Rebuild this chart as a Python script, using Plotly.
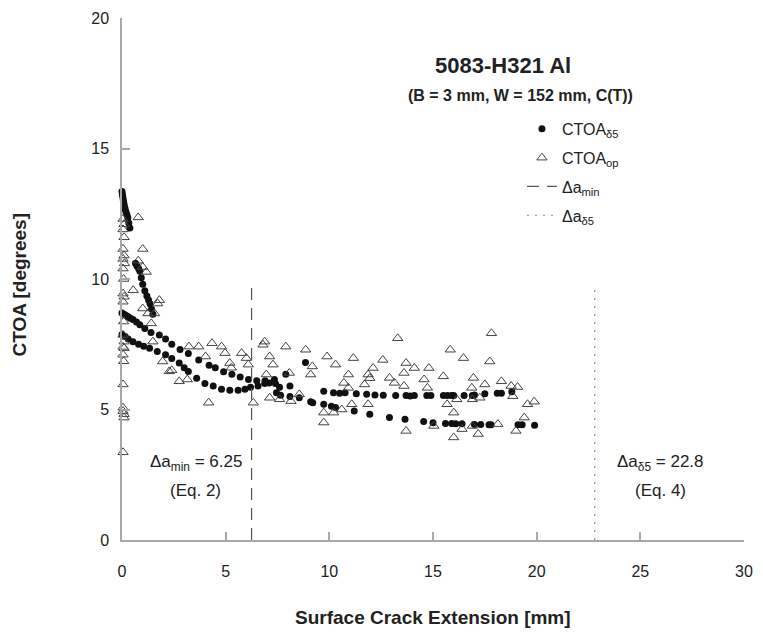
import plotly.graph_objects as go

# ---- data ----
d5_x = [0.0, 0.02, 0.04, 0.06, 0.08, 0.1, 0.13, 0.16, 0.2, 0.24, 0.28, 0.33, 0.38, 0.65, 0.72, 0.8, 0.86, 0.93,
        1.0, 1.1, 1.2, 1.28, 1.35, 1.42, 1.49,
        0.0, 0.1, 0.2, 0.3, 0.4, 0.53, 0.7, 0.86, 1.1, 1.4, 1.8, 2.1, 2.4, 2.8, 3.2, 3.7, 4.2, 4.5, 4.9, 5.3, 5.7,
        6.1, 6.5, 6.9, 7.35, 7.9,
        0.0, 0.15, 0.3, 0.53, 0.8, 1.05, 1.33, 1.7, 2.1, 2.4, 2.76, 3.0, 3.2, 3.6, 4.0, 4.4, 4.8, 5.2, 5.6, 5.93,
        6.2, 6.56, 6.88, 7.1, 7.4,
        7.6, 8.1, 8.85, 9.73, 10.2, 10.5, 10.76, 11.3, 11.8, 12.2, 12.6, 13.2, 13.7, 13.9, 14.1, 14.7, 14.9, 15.5,
        15.7, 15.9, 16.0, 16.5, 16.9, 17.0, 17.5, 18.1, 18.3, 18.8,
        7.45, 7.65, 8.1, 8.55, 9.1, 9.2, 9.73, 10.1, 10.3, 11.2, 11.95, 12.9, 13.65, 14.55, 15.0, 15.6, 15.9,
        16.1, 16.4, 17.0, 17.3, 17.7, 17.8, 19.1, 19.3, 19.9]
d5_y = [13.35, 13.25, 13.15, 13.05, 12.95, 12.85, 12.75, 12.65, 12.55, 12.45, 12.35, 12.15, 11.95, 10.6, 10.5,
        10.4, 10.3, 10.05, 9.8, 9.55, 9.35, 9.2, 9.05, 8.85, 8.65,
        8.7, 8.65, 8.6, 8.55, 8.5, 8.45, 8.35, 8.25, 8.1, 7.95, 7.85, 7.7, 7.5, 7.3, 7.15, 6.9, 6.7, 6.6, 6.45,
        6.35, 6.25, 6.15, 6.1, 6.1, 6.15, 6.35,
        7.87, 7.8, 7.7, 7.6, 7.5, 7.42, 7.35, 7.22, 7.1, 6.95, 6.78, 6.6, 6.46, 6.2, 6.0, 5.9, 5.78, 5.74, 5.74,
        5.78, 5.85, 5.9, 6.0, 6.02, 6.0,
        5.85, 5.9, 6.8, 5.7, 5.64, 5.62, 5.64, 5.6, 5.58, 5.56, 5.55, 5.54, 5.54, 5.52, 5.54, 5.54, 5.54, 5.54,
        5.54, 5.54, 5.54, 5.54, 5.54, 5.56, 5.6, 5.62, 5.62, 5.68,
        5.64, 5.55, 5.5, 5.45, 5.3, 5.26, 5.2, 5.12, 5.08, 4.94, 4.82, 4.69, 4.63, 4.54, 4.49, 4.46, 4.46, 4.45,
        4.45, 4.43, 4.43, 4.42, 4.42, 4.42, 4.42, 4.4]

op_x = [0.05, 0.1, 0.05, 0.1, 0.05, 0.1, 0.05, 0.12, 0.05, 0.08, 0.05, 0.1, 0.05, 0.08, 0.05, 0.1, 0.05, 0.1,
        0.05, 0.08, 0.05, 0.05, 0.1, 0.05, 0.1, 0.05,
        0.78, 1.0, 0.78, 1.0, 1.17, 0.54, 1.8, 1.0, 1.25, 1.41, 1.57, 1.72, 1.49, 1.96, 2.28, 2.4, 2.76, 3.15,
        3.23, 3.7, 4.03, 4.34, 4.8, 4.97, 5.2, 5.27, 4.18, 5.77, 6.0, 6.09, 6.33, 6.8, 6.88, 7.12, 7.28, 6.96,
        7.9, 8.07, 7.12, 7.6, 8.15, 8.86, 9.18, 9.1, 8.55, 9.89, 10.3, 10.7, 10.92, 11.16, 10.92, 11.08, 9.73,
        9.73, 10.21, 10.6, 11.87, 11.95, 12.11, 11.7, 11.87, 12.58, 12.9, 13.14, 13.6, 13.7, 14.1, 13.6, 13.3,
        13.7, 14.57, 14.73, 14.8, 15.5, 15.83, 16.47, 17.82, 17.74, 16.95, 16.87, 17.5, 18.3, 18.77, 19.08,
        18.85, 15.68, 16.15, 16.9, 17.26, 16.0, 16.0, 17.18, 16.4, 15.04, 16.9, 18.13, 19.0, 19.4, 19.56, 19.88]
op_y = [12.3, 12.1, 11.9, 11.6, 11.15, 10.9, 10.77, 10.6, 10.4, 10.0, 9.44, 9.32, 9.13, 8.37, 7.86, 7.6, 7.4,
        7.35, 7.1, 6.85, 5.96, 5.07, 4.82, 4.94, 4.69, 3.36,
        12.36, 11.15, 10.7, 10.46, 10.27, 9.57, 9.19, 8.87, 8.68, 8.3, 8.68, 9.06, 7.6, 6.84, 6.46, 6.5, 6.08,
        6.15, 7.41, 7.41, 7.03, 7.54, 7.41, 7.16, 6.78, 6.6, 5.26, 7.16, 6.97, 6.72, 5.26, 7.48, 7.6, 7.03, 6.72,
        6.34, 7.41, 6.4, 5.45, 5.39, 5.32, 7.29, 6.65, 6.34, 5.58, 7.03, 6.72, 6.02, 6.34, 6.97, 5.83, 5.2, 4.88,
        4.5, 4.88, 5.0, 6.34, 6.2, 6.59, 5.96, 5.2, 6.9, 6.21, 6.02, 6.4, 6.78, 6.59, 5.9, 7.73,
        4.18, 6.15, 5.83, 6.59, 6.27, 7.29, 6.97, 7.92, 6.84, 6.21, 5.83, 5.96, 6.08, 5.9, 5.86,
        5.51, 5.2, 5.39, 5.39, 5.45, 4.88, 3.93, 4.06, 4.25, 4.37, 4.37, 4.44, 4.18, 4.69, 5.2, 5.3]

da_min = 6.25
da_d5 = 22.8
line_y = [0, 9.8]

x_ticks = [0, 5, 10, 15, 20, 25, 30]
y_ticks = [0, 5, 10, 15, 20]

FONT = "Liberation Sans, Arial, sans-serif"
TXT = "#222222"
AX = "#a8a8a8"

fig = go.Figure()
fig.add_trace(go.Scatter(x=d5_x, y=d5_y, mode="markers", name="CTOA<sub>δ5</sub>",
                         marker=dict(symbol="circle", size=7, color="#111111"),
                         cliponaxis=False, legendgroup="a"))
fig.add_trace(go.Scatter(x=op_x, y=op_y, mode="markers", name="CTOA<sub>op</sub>",
                         marker=dict(symbol="triangle-up-open", size=9, color="#444444",
                                     line=dict(width=1, color="#444444")),
                         cliponaxis=False, legendgroup="b"))
fig.add_trace(go.Scatter(x=[da_min, da_min], y=line_y, mode="lines", name="Δa<sub>min</sub>",
                         line=dict(color="#555555", width=1.2, dash="12px,8px"), legendgroup="c"))
fig.add_trace(go.Scatter(x=[da_d5, da_d5], y=line_y, mode="lines", name="Δa<sub>δ5</sub>",
                         line=dict(color="#8a8a8a", width=1.2, dash="2px,6px"), legendgroup="d"))

axis_common = dict(showline=True, linecolor=AX, linewidth=1.5, ticks="inside", ticklen=8,
                   tickcolor=AX, tickwidth=1.5, showgrid=False, zeroline=False,
                   tickfont=dict(family=FONT, size=16, color=TXT))
fig.update_xaxes(range=[0, 30], tickvals=x_ticks, ticklabelstandoff=16, **axis_common)
fig.update_yaxes(range=[0, 20], tickvals=y_ticks, ticklabelstandoff=8, **axis_common)

annotations = [
    dict(text="<b>5083-H321 Al</b>", x=0.612, y=0.909, font=dict(size=22)),
    dict(text="<b>(B = 3 mm, W = 152 mm, C(T))</b>", x=0.640, y=0.852, font=dict(size=16)),
    dict(text="<b>Surface Crack Extension [mm]</b>", x=0.5, y=-0.148, font=dict(size=19)),
    dict(text="<b>CTOA [degrees]</b>", x=-0.165, y=0.49, font=dict(size=19), textangle=-90),
]
for a in annotations:
    a.update(xref="paper", yref="paper", showarrow=False, xanchor="center", yanchor="middle")
    a["font"].update(family=FONT, color=TXT)
    fig.add_annotation(**a)

for txt, xx, yy in [("Δa<sub>min</sub> = 6.25", 3.55, 2.95), ("(Eq. 2)", 3.55, 1.9),
                    ("Δa<sub>δ5</sub> = 22.8", 25.96, 2.95), ("(Eq. 4)", 25.96, 1.9)]:
    fig.add_annotation(text=txt, x=xx, y=yy, xref="x", yref="y", showarrow=False,
                       font=dict(family=FONT, size=17, color=TXT))

fig.update_layout(
    width=763, height=634,
    margin=dict(l=122, r=10, t=14, b=94),
    plot_bgcolor="white", paper_bgcolor="white",
    showlegend=True,
    legend=dict(x=0.643, y=0.82, xanchor="left", yanchor="top", tracegroupgap=5,
                font=dict(family=FONT, size=16, color=TXT), bgcolor="rgba(0,0,0,0)"),
)

fig.write_html("out.html")
